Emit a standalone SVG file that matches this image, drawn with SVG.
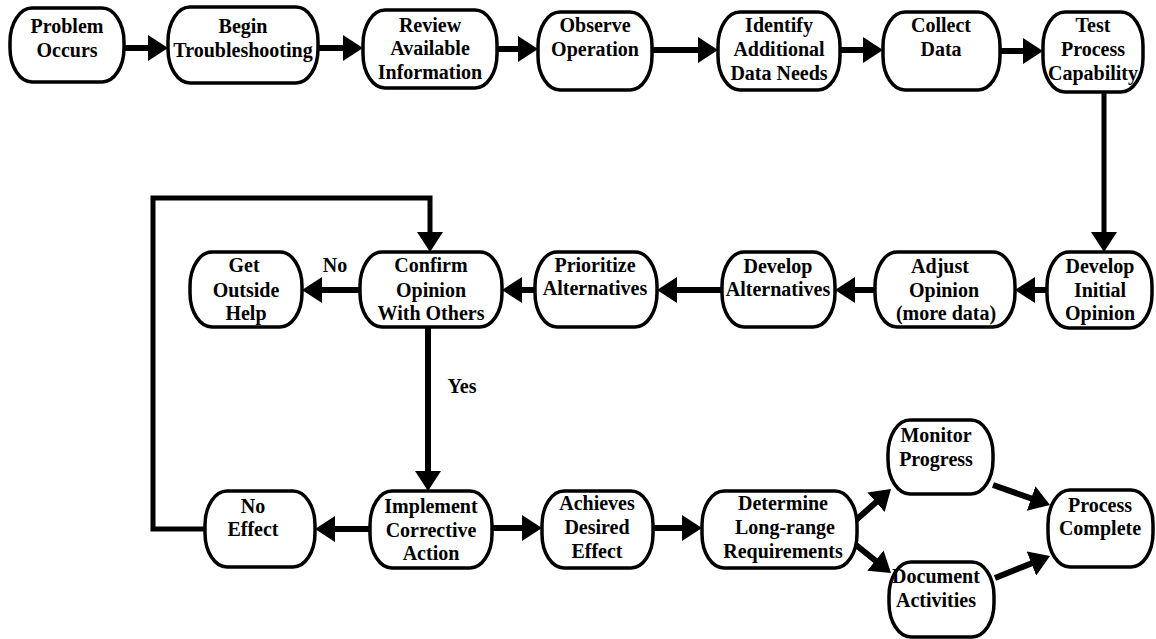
<svg xmlns="http://www.w3.org/2000/svg" width="1156" height="639" viewBox="0 0 1156 639">
<defs>
<style>
.box{fill:#fff;stroke:#000;stroke-width:3.5}
.t{font-family:"Liberation Serif","Times New Roman",serif;font-weight:bold;font-size:20px;fill:#000;text-anchor:middle}
.c{fill:none;stroke:#000;stroke-width:6}
.lp{fill:none;stroke:#000;stroke-width:5}
</style>
<marker id="ah" viewBox="0 0 20 26" refX="6" refY="13" markerWidth="20" markerHeight="26" markerUnits="userSpaceOnUse" orient="auto">
<path d="M0,0 L20,13 L0,26 Z" fill="#000"/>
</marker>
</defs>
<rect width="1156" height="639" fill="#fff"/>

<g id="connectors">
<line class="c" x1="124" y1="48" x2="154" y2="48" marker-end="url(#ah)"/>
<line class="c" x1="318" y1="48" x2="349" y2="48" marker-end="url(#ah)"/>
<line class="c" x1="497" y1="49" x2="524" y2="49" marker-end="url(#ah)"/>
<line class="c" x1="652" y1="50" x2="704" y2="50" marker-end="url(#ah)"/>
<line class="c" x1="840" y1="50" x2="869" y2="50" marker-end="url(#ah)"/>
<line class="c" x1="1000" y1="51" x2="1029" y2="51" marker-end="url(#ah)"/>
<line class="lp" x1="1104" y1="92" x2="1104" y2="238" marker-end="url(#ah)"/>
<line class="c" x1="1047" y1="290" x2="1029" y2="290" marker-end="url(#ah)"/>
<line class="c" x1="875" y1="290" x2="849" y2="290" marker-end="url(#ah)"/>
<line class="c" x1="722" y1="290" x2="671" y2="290" marker-end="url(#ah)"/>
<line class="c" x1="535" y1="290" x2="516" y2="290" marker-end="url(#ah)"/>
<line class="c" x1="360" y1="290" x2="316" y2="290" marker-end="url(#ah)"/>
<line class="c" x1="428" y1="327" x2="428" y2="477" marker-end="url(#ah)"/>
<line class="c" x1="370" y1="529" x2="329" y2="529" marker-end="url(#ah)"/>
<polyline class="lp" points="205,529 153,529 153,198 430,198 430,238" marker-end="url(#ah)"/>
<line class="c" x1="492" y1="528" x2="528" y2="528" marker-end="url(#ah)"/>
<line class="c" x1="653" y1="528" x2="688" y2="528" marker-end="url(#ah)"/>
<line class="c" x1="856" y1="520" x2="880.5" y2="498.3" marker-end="url(#ah)"/>
<line class="c" x1="856" y1="545" x2="880.1" y2="564.3" marker-end="url(#ah)"/>
<line class="c" x1="993" y1="485" x2="1036.8" y2="500.4" marker-end="url(#ah)"/>
<line class="c" x1="995" y1="578" x2="1037" y2="561.2" marker-end="url(#ah)"/>
<text class="t" x="335" y="272">No</text>
<text class="t" x="462" y="393">Yes</text>
</g>

<g id="n-problem"><rect class="box" x="10" y="8" width="114" height="74" rx="22" ry="34"/><text class="t" x="67" y="33">Problem</text><text class="t" x="67" y="57">Occurs</text></g>
<g id="n-begin"><rect class="box" x="168" y="7" width="150" height="76" rx="22" ry="34"/><text class="t" x="243" y="33">Begin</text><text class="t" x="243" y="57">Troubleshooting</text></g>
<g id="n-review"><rect class="box" x="363" y="10" width="134" height="78" rx="22" ry="34"/><text class="t" x="430" y="32">Review</text><text class="t" x="430" y="55">Available</text><text class="t" x="430" y="79">Information</text></g>
<g id="n-observe"><rect class="box" x="538" y="12" width="114" height="78" rx="22" ry="34"/><text class="t" x="595" y="32">Observe</text><text class="t" x="595" y="56">Operation</text></g>
<g id="n-identify"><rect class="box" x="718" y="12" width="122" height="78" rx="22" ry="34"/><text class="t" x="779" y="32">Identify</text><text class="t" x="779" y="56">Additional</text><text class="t" x="779" y="80">Data Needs</text></g>
<g id="n-collect"><rect class="box" x="883" y="12" width="117" height="78" rx="22" ry="34"/><text class="t" x="941" y="32">Collect</text><text class="t" x="941" y="56">Data</text></g>
<g id="n-test"><rect class="box" x="1043" y="12" width="100" height="80" rx="22" ry="34"/><text class="t" x="1093" y="32">Test</text><text class="t" x="1093" y="56">Process</text><text class="t" x="1093" y="80">Capability</text></g>

<g id="n-initial"><rect class="box" x="1047" y="252" width="105" height="76" rx="22" ry="34"/><text class="t" x="1100" y="273">Develop</text><text class="t" x="1100" y="297">Initial</text><text class="t" x="1100" y="320">Opinion</text></g>
<g id="n-adjust"><rect class="box" x="875" y="252" width="140" height="75" rx="22" ry="34"/><text class="t" x="940" y="273">Adjust</text><text class="t" x="944" y="297">Opinion</text><text class="t" x="946" y="320">(more data)</text></g>
<g id="n-devalt"><rect class="box" x="722" y="252" width="113" height="75" rx="22" ry="34"/><text class="t" x="778" y="273">Develop</text><text class="t" x="778" y="296">Alternatives</text></g>
<g id="n-prior"><rect class="box" x="535" y="252" width="122" height="75" rx="22" ry="34"/><text class="t" x="595" y="272">Prioritize</text><text class="t" x="595" y="295">Alternatives</text></g>
<g id="n-confirm"><rect class="box" x="360" y="252" width="142" height="75" rx="22" ry="34"/><text class="t" x="431" y="272">Confirm</text><text class="t" x="431" y="297">Opinion</text><text class="t" x="431" y="320">With Others</text></g>
<g id="n-help"><rect class="box" x="190" y="252" width="112" height="75" rx="22" ry="34"/><text class="t" x="244" y="272">Get</text><text class="t" x="246" y="297">Outside</text><text class="t" x="246" y="320">Help</text></g>

<g id="n-noeffect"><rect class="box" x="205" y="491" width="110" height="76" rx="22" ry="34"/><text class="t" x="253" y="513">No</text><text class="t" x="253" y="536">Effect</text></g>
<g id="n-implement"><rect class="box" x="370" y="491" width="122" height="77" rx="22" ry="34"/><text class="t" x="431" y="513">Implement</text><text class="t" x="431" y="537">Corrective</text><text class="t" x="431" y="560">Action</text></g>
<g id="n-achieves"><rect class="box" x="542" y="491" width="111" height="77" rx="22" ry="34"/><text class="t" x="597" y="510">Achieves</text><text class="t" x="597" y="534">Desired</text><text class="t" x="597" y="558">Effect</text></g>
<g id="n-determine"><rect class="box" x="702" y="491" width="155" height="77" rx="22" ry="34"/><text class="t" x="783" y="510">Determine</text><text class="t" x="785" y="534">Long-range</text><text class="t" x="783" y="558">Requirements</text></g>
<g id="n-monitor"><rect class="box" x="888" y="420" width="105" height="74" rx="22" ry="34"/><text class="t" x="936" y="442">Monitor</text><text class="t" x="936" y="466">Progress</text></g>
<g id="n-document"><rect class="box" x="889" y="562" width="105" height="75" rx="22" ry="34"/><text class="t" x="936" y="583">Document</text><text class="t" x="936" y="607">Activities</text></g>
<g id="n-complete"><rect class="box" x="1048" y="490" width="105" height="77" rx="22" ry="34"/><text class="t" x="1100" y="512">Process</text><text class="t" x="1100" y="535">Complete</text></g>
</svg>
